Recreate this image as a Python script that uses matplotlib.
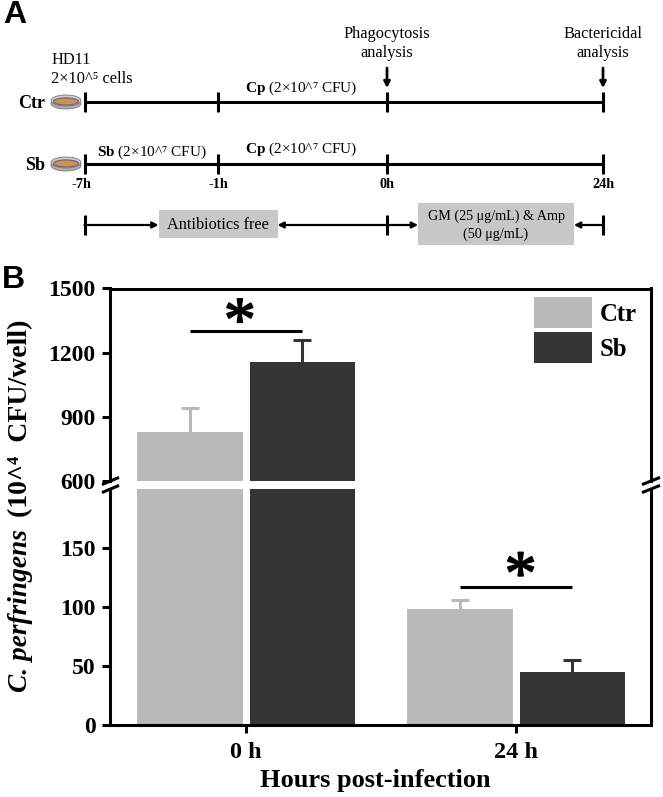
import matplotlib
matplotlib.use("Agg")
import matplotlib.pyplot as plt
import matplotlib.patheffects as pe
from matplotlib.patches import Ellipse, Rectangle

# Data
time_labels = ["-7h", "-1h", "0h", "24h"]
time_px = [84.5, 218, 387, 603]
hours = ["0 h", "24 h"]
ctr_mean = [830, 98]
ctr_err = [110, 8]
sb_mean = [1155, 45]
sb_err = [105, 10]
upper_ticks = [600, 900, 1200, 1500]
lower_ticks = [0, 50, 100, 150]

W, H = 663, 797
GREY = "#b9b9b9"
DARK = "#353535"
BOX = "#c8c8c8"
LW = 2.2

plt.rcParams["font.family"] = ["Liberation Serif", "DejaVu Sans"]
plt.rcParams["mathtext.fontset"] = "custom"
plt.rcParams["mathtext.rm"] = "Liberation Serif"
plt.rcParams["mathtext.bf"] = "Liberation Serif:bold"
plt.rcParams["mathtext.it"] = "Liberation Serif:italic"

fig = plt.figure(figsize=(W / 100, H / 100), dpi=100)


def px_axes(left, top, right, bottom):
    return fig.add_axes([left / W, 1 - bottom / H, (right - left) / W, (bottom - top) / H])


# Panel B, two axes with a break between 200 and 600
ax_up = px_axes(110, 288.5, 651, 481)
ax_low = px_axes(110, 489, 651, 725)
width = 0.392
offset = 0.209


def err_up(ax, x, mean, err, color):
    eb = ax.errorbar(x, mean, yerr=[[0], [err]], color=color,
                     elinewidth=LW, capsize=6.5, capthick=LW)
    eb[1][0].set_visible(False)  # only the upper cap


for ax in (ax_up, ax_low):
    for i in range(len(hours)):
        ax.bar(i - offset, ctr_mean[i], width, color=GREY,
               label="Ctr" if i == 0 else None)
        ax.bar(i + offset, sb_mean[i], width, color=DARK,
               label="Sb" if i == 0 else None)
        err_up(ax, i - offset, ctr_mean[i], ctr_err[i], GREY)
        err_up(ax, i + offset, sb_mean[i], sb_err[i], DARK)
    ax.set_xlim(-0.504, 1.5)
    for s in ("left", "right"):
        ax.spines[s].set_linewidth(LW)
    ax.tick_params(axis="y", length=5.5, width=LW, labelsize=17, pad=5)
    ax.tick_params(axis="x", length=5.5, width=LW, pad=7)

ax_up.set_ylim(600, 1500)
ax_up.set_yticks(upper_ticks)
ax_up.set_yticklabels([str(t) for t in upper_ticks], fontweight="bold")
ax_up.set_xticks([])
ax_up.spines["bottom"].set_visible(False)
ax_up.spines["top"].set_linewidth(LW)

ax_low.set_ylim(0, 200)
ax_low.set_yticks(lower_ticks)
ax_low.set_yticklabels([str(t) for t in lower_ticks], fontweight="bold")
ax_low.set_xticks(range(len(hours)))
ax_low.set_xticklabels(hours, fontweight="bold", fontsize=17.5)
ax_low.spines["top"].set_visible(False)
ax_low.spines["bottom"].set_linewidth(LW)

# Significance
star_fx = [pe.withStroke(linewidth=1.2, foreground="black")]
ax_up.plot([-offset, offset], [1303, 1303], color="black", lw=LW, solid_capstyle="butt")
ax_up.text(-0.023, 1326, "*", fontsize=46, ha="center", va="center", path_effects=star_fx)
ax_low.plot([1 - offset, 1 + offset], [117, 117], color="black", lw=LW, solid_capstyle="butt")
ax_low.text(1.017, 123.5, "*", fontsize=46, ha="center", va="center", path_effects=star_fx)

ax_up.legend(loc="upper right", bbox_to_anchor=(0.973, 0.955), frameon=False,
             prop={"weight": "bold", "size": 17.8}, handlelength=2.35, handleheight=1.55,
             handletextpad=0.3, labelspacing=0.16, borderpad=0, borderaxespad=0)

# Overlay in pixel coordinates for panel A and loose labels
ov = fig.add_axes([0, 0, 1, 1], facecolor="none")
ov.set_xlim(0, W)
ov.set_ylim(H, 0)
ov.axis("off")


def hline(x0, x1, y, lw=LW):
    ov.plot([x0, x1], [y, y], color="black", lw=lw, solid_capstyle="butt")


def vtick(x, y, half=10):
    ov.plot([x, x], [y - half, y + half], color="black", lw=LW, solid_capstyle="butt")


def arrow(x0, y0, x1, y1, style="-|>", lw=1.6):
    ov.annotate("", xy=(x1, y1), xytext=(x0, y0),
                arrowprops=dict(arrowstyle=style + ",head_length=0.35,head_width=0.18",
                                color="black", lw=lw, shrinkA=0, shrinkB=0))


def dish(x, y):
    ov.add_patch(Ellipse((x, y + 2), 30, 11, fc="#a9b0b5", ec="#777777", lw=0.6))
    ov.add_patch(Ellipse((x, y - 1), 30, 11, fc="#c9ced2", ec="#777777", lw=0.6))
    ov.add_patch(Ellipse((x, y), 25, 7, fc="#c79a3e", ec="#8e5a8e", lw=1.0))


ov.text(3, 15, "A", family="Liberation Sans", fontweight="bold", fontsize=23, va="center")
ov.text(2, 280, "B", family="Liberation Sans", fontweight="bold", fontsize=23, va="center")

for y, name in [(102, "Ctr"), (164, "Sb")]:
    hline(time_px[0], time_px[-1], y)
    for x in time_px:
        vtick(x, y)
    dish(66, y - 0.5)
    ov.text(45, y + 1, name, fontweight="bold", fontsize=13, ha="right", va="center")

for x, lab in zip(time_px, time_labels):
    shift = -3 if lab == "-7h" else 0
    ov.text(x + shift, 184, lab, fontweight="bold", fontsize=10.3, ha="center", va="center")

ov.text(51, 60, "HD11", fontsize=11.8, va="center")
ov.text(51, 79, "2×10^⁵ cells", fontsize=11.8, va="center")
ov.text(387, 34, "Phagocytosis", fontsize=11.8, ha="center", va="center")
ov.text(387, 53, "analysis", fontsize=11.8, ha="center", va="center")
ov.text(603, 34, "Bactericidal", fontsize=11.8, ha="center", va="center")
ov.text(603, 53, "analysis", fontsize=11.8, ha="center", va="center")
arrow(387, 68, 387, 88, "->", 2)
arrow(603, 68, 603, 88, "->", 2)

cp_text = r"$\mathbf{Cp}$ (2×10^⁷ CFU)"
ov.text(301.5, 88, cp_text, fontsize=11, ha="center", va="center")
ov.text(301.5, 149, cp_text, fontsize=11, ha="center", va="center")
ov.text(152, 152, r"$\mathbf{Sb}$ (2×10^⁷ CFU)", fontsize=11, ha="center", va="center")

# Treatment windows
ov.add_patch(Rectangle((158.5, 210), 119, 28, fc=BOX, ec="none"))
ov.add_patch(Rectangle((418, 203), 156, 42, fc=BOX, ec="none"))
ov.text(218, 225, "Antibiotics free", fontsize=11.7, ha="center", va="center")
ov.text(496, 216, "GM (25 μg/mL) & Amp", fontsize=10.2, ha="center", va="center")
ov.text(496, 234, "(50 μg/mL)", fontsize=10.2, ha="center", va="center")
for x in (time_px[0], time_px[2], time_px[3]):
    vtick(x, 225)
arrow(time_px[0], 225, 158.5, 225)
arrow(time_px[2], 225, 277.5, 225)
arrow(time_px[2], 225, 418, 225)
arrow(time_px[3], 225, 574, 225)

# Axis break marks
for x0, x1 in [(102, 119), (642, 660)]:
    for yc in (481, 489):
        ov.plot([x0, x1], [yc + 3.6, yc - 3.6], color="black", lw=LW, solid_capstyle="butt")

# Axis titles
ov.text(375, 780, "Hours post-infection", fontweight="bold", fontsize=19, ha="center", va="center")
ov.text(20.5, 611, "C. perfringens", fontweight="bold", fontstyle="italic", fontsize=19.7,
        rotation=90, ha="center", va="center")
ov.text(20.5, 418, "(10^⁴  CFU/well)", fontweight="bold", fontsize=20,
        rotation=90, ha="center", va="center")

fig.savefig("out.png", dpi=100)
